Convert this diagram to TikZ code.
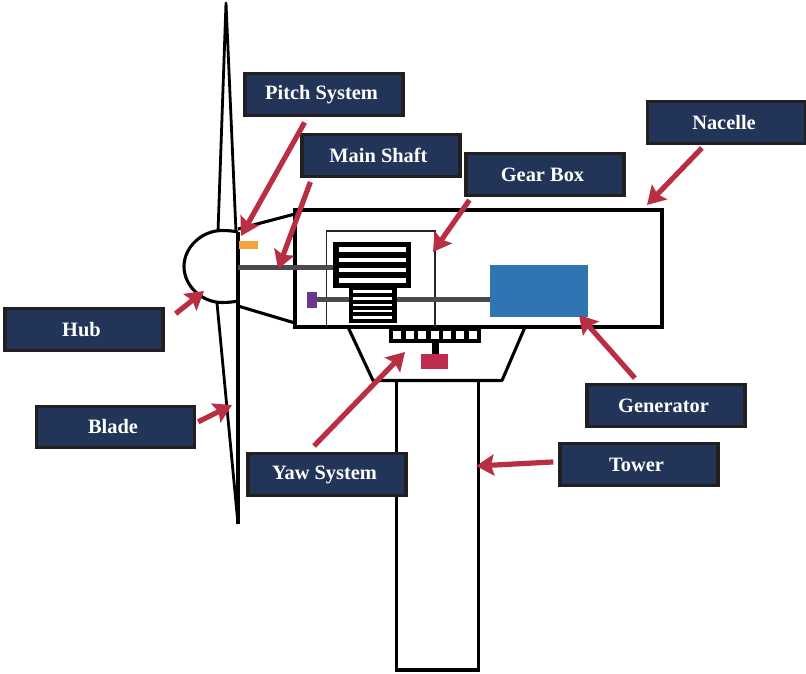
\documentclass[tikz,border=0pt]{standalone}
\usepackage{fontspec}
\setmainfont{Liberation Serif}
\usepackage{tikz}
\usetikzlibrary{arrows.meta}
\definecolor{navy}{HTML}{223558}
\definecolor{edge}{HTML}{231F20}
\definecolor{arrowred}{HTML}{B92E42}
\definecolor{pitchorange}{HTML}{F4A33C}
\definecolor{genblue}{HTML}{2E75B2}
\definecolor{brakepurple}{HTML}{6A3795}
\definecolor{yawred}{HTML}{BF2C4E}
\definecolor{shaftgray}{HTML}{4A4A4F}
\begin{document}
\begin{tikzpicture}[
    x=1pt, y=-1pt,
    tag/.style={draw=edge, fill=navy, line width=3.4pt, minimum width=158pt, minimum height=41.5pt, inner sep=0pt,
        text=white, font=\fontsize{20.4}{24}\selectfont\bfseries, execute at end node=\hspace{5pt}},
    ar/.style={-{Stealth[length=18pt, width=21pt, inset=3pt]}, line width=5.2pt, draw=arrowred},
    outline/.style={draw=black, line width=3.1pt},
    thinline/.style={draw=black!85, line width=1.6pt},
    shaft/.style={draw=shaftgray, line width=5.4pt}
]
\useasboundingbox (0,0) rectangle (806,673);
\draw[outline, line width=2.8pt, line join=round] (218,232) -- (226,3) -- (236,232);
\draw[outline, line width=2.8pt] (217,303) -- (238,524);
\draw[outline] (238,232) -- (238,524);
\draw[outline] (238,232) .. controls (233,231) and (228,230.5) .. (222,230.5) .. controls (202,230.5) and (184,247) .. (184,266.5) .. controls (184,286) and (202,302.5) .. (222,302.5) .. controls (228,302.5) and (233,302) .. (238,301);
\draw[outline] (238,229) -- (295,214);
\draw[outline] (238,306) -- (295,323);
\draw[outline] (295,210) rectangle (662,327);
\draw[thinline] (326.5,327) |- (435,231) -- (435,327);
\draw[shaft] (238,267.5) -- (334,267.5);
\draw[shaft, line width=4.6pt] (317,299.5) -- (490,299.5);
\fill[pitchorange] (239,241) rectangle (258,249);
\fill[brakepurple] (307,292) rectangle (317,308);
\fill[genblue] (490,265) rectangle (588,317);
\fill[black] (333,242) rectangle (411,288);
\foreach \y in {247.3,257.5,267.6,277.7}
    \fill[white] (339,\y) rectangle (406,\y+4.8);
\fill[black] (349,288) rectangle (397,322.7);
\foreach \y in {290,297,303.7,309.5,316.2}
    \fill[white] (353,\y) rectangle (392,\y+2.6);
\fill[black] (389,327) rectangle (481,343);
\foreach \x in {397.3,410,422.3,435,447.3,460,472.7}
    \fill[white] (\x-4,331) rectangle (\x+4,339);
\fill[black] (431.5,343) rectangle (438.5,355);
\fill[yawred] (421,354) rectangle (448,369);
\draw[outline, line join=round] (348,327) -- (373,380.5) -- (502,380.5) -- (525,327);
\draw[outline] (396.5,380.5) -- (396.5,670) -- (478.5,670) -- (478.5,380.5);
\node[tag] (pitch) at (324,94.5) {Pitch System};
\node[tag] (main) at (381,155.5) {Main Shaft};
\node[tag] (gear) at (545,174.5) {Gear Box};
\node[tag] (nacelle) at (726.5,122.5) {Nacelle};
\node[tag] (hub) at (84,329.5) {Hub};
\node[tag] (blade) at (115.5,427) {Blade};
\node[tag] (generator) at (666,405.5) {Generator};
\node[tag] (tower) at (639,464.5) {Tower};
\node[tag] (yaw) at (327,474.5) {Yaw System};
\coordinate (pitchtip) at (241,236);
\coordinate (maintip) at (278,269);
\coordinate (geartip) at (433,252);
\coordinate (nacelletip) at (647,205);
\coordinate (hubtip) at (204,291);
\coordinate (bladetip) at (232,405);
\coordinate (generatortip) at (579,315);
\coordinate (towertip) at (476,466);
\coordinate (yawtip) at (405,352);
\draw[ar, shorten <=6.3pt] (pitch.234) -- (pitchtip);
\draw[ar, shorten <=4.3pt] (main.198.5) -- (maintip);
\draw[ar, shorten <=3.8pt] (gear.197.9) -- (geartip);
\draw[ar, shorten <=4.2pt] (nacelle.226.2) -- (nacelletip);
\draw[ar, shorten <=14pt] (hub.5.6) -- (hubtip);
\draw[ar, shorten <=2.2pt] (blade.3.6) -- (bladetip);
\draw[ar, shorten <=6.6pt] (generator.140.4) -- (generatortip);
\draw[ar, shorten <=5pt] (tower.178.4) -- (towertip);
\draw[ar, shorten <=8.5pt] (yaw.130.5) -- (yawtip);
\end{tikzpicture}
\end{document}
